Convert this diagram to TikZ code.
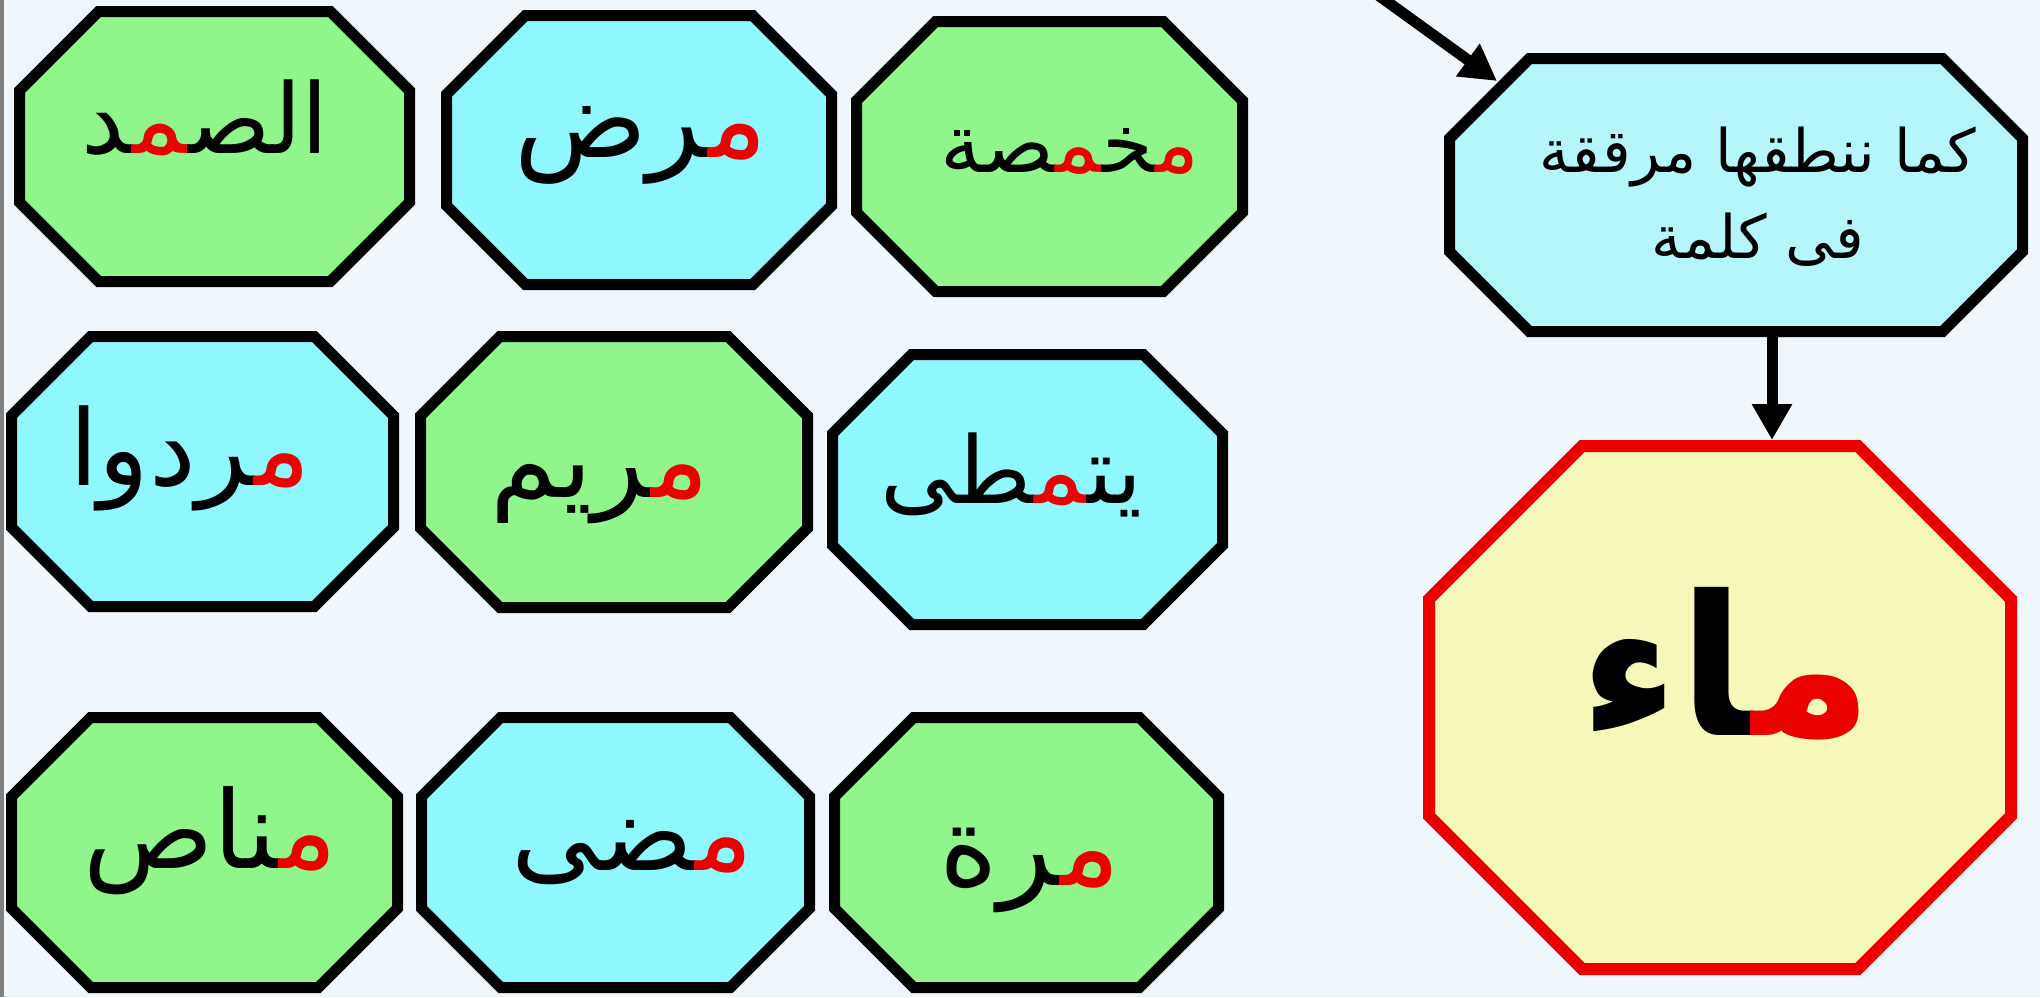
\documentclass[tikz,border=0pt]{standalone}
\usepackage{fontspec}
\usetikzlibrary{arrows.meta}
\newfontfamily\arabicfont[Script=Arabic]{DejaVu Sans}
\TeXXeTstate=1
\newcommand\zj{^^^^200d}
\newcommand\wsize[1]{\fontsize{#1}{#1}\selectfont}
\definecolor{bg}{RGB}{239,246,252}
\definecolor{lgreen}{RGB}{144,246,140}
\definecolor{lcyan}{RGB}{143,248,255}
\definecolor{lblue}{RGB}{180,246,250}
\definecolor{lyellow}{RGB}{246,248,186}
\definecolor{myred}{RGB}{235,0,0}
\definecolor{edgegray}{RGB}{128,128,128}
\tikzset{
  octline/.style={line width=11pt, line join=miter, draw=black},
  greenoct/.style={octline, fill=lgreen},
  cyanoct/.style={octline, fill=lcyan},
  blueoct/.style={octline, fill=lblue},
  yellowoct/.style={line width=12pt, line join=miter, draw=myred, fill=lyellow},
  word/.style={anchor=base, inner sep=0pt, font=\arabicfont\wsize{#1}},
  word/.default=100,
  conn/.style={line width=11pt, -{Triangle[length=36pt,width=38pt]}},
  octframe/.style={inner sep=0pt, outer sep=0pt, draw=none},
}
\newcommand\octo[5]{%
  \node[octframe, minimum width=#3pt, minimum height=#4pt] (#1) at (#2) {};
  \pgfmathsetmacro\oc{0.2929*min(#3,#4)}%
  \draw[#5] ([xshift=\oc pt]#1.north west) -- ([xshift=-\oc pt]#1.north east)
    -- ([yshift=-\oc pt]#1.north east) -- ([yshift=\oc pt]#1.south east)
    -- ([xshift=-\oc pt]#1.south east) -- ([xshift=\oc pt]#1.south west)
    -- ([yshift=\oc pt]#1.south west) -- ([yshift=-\oc pt]#1.north west) -- cycle;
}
\begin{document}
\begin{tikzpicture}[x=1pt,y=-1pt]
\useasboundingbox (0,0) rectangle (2040,997);
\clip (0,0) rectangle (2040,997);
\fill[bg] (0,0) rectangle (2040,997);
\fill[edgegray] (0,0) rectangle (3.5,997);
% octagons
\octo{o1}{214.5,146.5}{390}{270}{greenoct}
\octo{o2}{639,150}{385}{269}{cyanoct}
\octo{o3}{1049.5,156.5}{386}{270}{greenoct}
\octo{o4}{202.5,471.5}{382}{270}{cyanoct}
\octo{o5}{614,472}{387}{271}{greenoct}
\octo{o6}{1027.5,489.5}{390}{270}{cyanoct}
\octo{o7}{204.5,852.5}{386}{270}{greenoct}
\octo{o8}{615.5,852.5}{388}{270}{cyanoct}
\octo{o9}{1026.5,852.5}{384}{270}{greenoct}
\octo{blue}{1736,195}{573}{273}{blueoct}
\octo{yellow}{1720,707.5}{582}{523}{yellowoct}
% words
\node[word=97] (w1) at (205,153) {{\zj د}{\color{myred}\zj م\zj}{الص\zj}};
\node[word=110] (w2) at (641,157) {{\zj رض}{\color{myred}م\zj}};
\node[word=82] (w3) at (1070,172) {{\zj صة}{\color{myred}\zj م\zj}{\zj خ\zj}{\color{myred}م\zj}};
\node[word=105] (w4) at (190,485) {{\zj ردوا}{\color{myred}م\zj}};
\node[word=108] (w5) at (600,497) {{\zj ريم}{\color{myred}م\zj}};
\node[word=93] (w6) at (1011,503) {{\zj طى}{\color{myred}\zj م\zj}{يت\zj}};
\node[word=108] (w7) at (210,868) {{\zj ناص}{\color{myred}م\zj}};
\node[word=108] (w8) at (632,870) {{\zj ضى}{\color{myred}م\zj}};
\node[word=112] (w9) at (1030,885) {{\zj رة}{\color{myred}م\zj}};
\node[word, font=\arabicfont\bfseries\wsize{195}] (w10) at (1726,735) {{\zj اء}{\color{myred}م\zj}};
\node[inner sep=0pt, align=center, font=\arabicfont\fontsize{60}{86}\selectfont] (note) at (1758,197) {\beginR كما ننطقها مرققة\endR\\\beginR فى كلمة\endR};
% connectors
\coordinate (src) at (1371,-10);
\draw[conn] (src) -- ([xshift=47.5pt,yshift=-22.5pt]blue.north west);
\coordinate (vx) at (1772,0);
\coordinate (ytop) at ([yshift=6pt]yellow.north);
\draw[conn] (blue.south -| vx) -- (ytop -| vx);
\end{tikzpicture}
\end{document}
